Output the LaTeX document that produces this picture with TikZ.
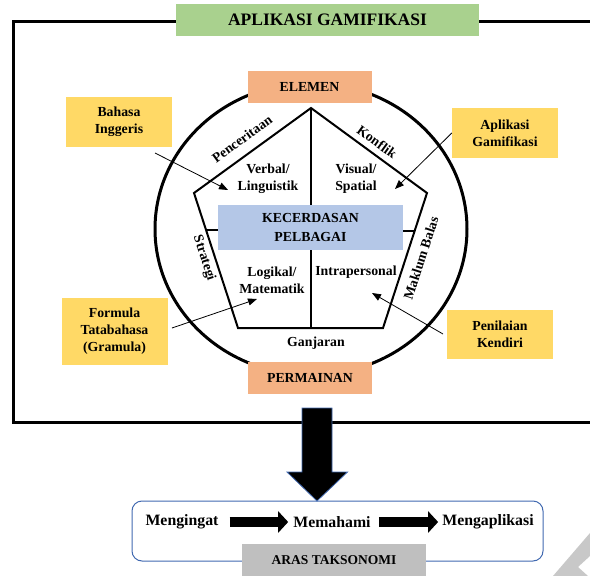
\documentclass[tikz,border=0pt]{standalone}
\usepackage{fontspec}
\setmainfont{Liberation Serif}
\usepackage{xcolor}
\usetikzlibrary{arrows.meta, positioning, calc}

\definecolor{titlegreen}{HTML}{A9D18E}
\definecolor{peach}{HTML}{F4B183}
\definecolor{gold}{HTML}{FFD966}
\definecolor{paleblue}{HTML}{B4C7E7}
\definecolor{midgrey}{HTML}{BFBFBF}
\definecolor{edgeblue}{HTML}{4169B0}
\definecolor{wedgegrey}{HTML}{C8C8C8}

\begin{document}
\begin{tikzpicture}[x=1pt, y=-1pt,
  txt/.style={font=\bfseries\fontsize{13.8}{17}\selectfont, align=center, inner sep=0pt},
  bigtxt/.style={font=\bfseries\fontsize{15.8}{18}\selectfont, inner sep=0pt},
  tagbox/.style={txt, fill=gold, minimum width=106pt},
  partbox/.style={txt, fill=peach, minimum width=124pt, minimum height=32pt},
  frame/.style={line width=3pt},
  ring/.style={line width=3pt},
  edge/.style={line width=2pt, line join=miter},
  pointer/.style={line width=0.8pt, -{Triangle[length=9pt, width=7pt]}},
  blockarrow/.style={line width=10pt, -{Triangle[length=10pt, width=21pt]}},
  bigarrow/.style={fill=black, draw=edgeblue, line width=0.8pt}]

\useasboundingbox (0,0) rectangle (590,576);

% Outer frame, open on the right
\draw[frame] (590,21) -- (13,21) -- (13,422) -- (590,422);

\node[txt, fill=titlegreen, minimum width=303pt, minimum height=32pt,
      font=\bfseries\fontsize{17.5}{20}\selectfont]
  (title) at (327.5,20) {APLIKASI GAMIFIKASI};

% Circle and pentagon
\draw[ring] (311,229) ellipse [x radius=156, y radius=146];

\coordinate (apex) at (311,108);
\coordinate (ul)   at (194,193);
\coordinate (ur)   at (427,193);
\coordinate (ll)   at (238,328);
\coordinate (lr)   at (383,328);
\draw[edge] (apex) -- (ur) -- (lr) -- (ll) -- (ul) -- cycle;
\draw[line width=2.5pt] (apex) -- (apex |- ll);

\node[partbox] (elemen)    at (309.5,87) {ELEMEN};
\node[partbox] (permainan) at (310,378)  {PERMAINAN};

\node[txt, fill=paleblue, minimum width=185pt, minimum height=45pt,
      font=\bfseries\fontsize{13.8}{19}\selectfont]
  (kecerdasan) at (310.5,227.5) {KECERDASAN\\PELBAGAI};

\coordinate (tl) at (206,230);
\coordinate (tr) at (414,231);
\draw[edge] (tl) -- (tl -| kecerdasan.west);
\draw[edge] (tr) -- (tr -| kecerdasan.east);

% Labels on the pentagon sides
\node[txt, rotate=36]  (penceritaan) at (242,139) {Penceritaan};
\node[txt, rotate=-36] (konflik)     at (377,142) {Konflik};
\node[txt, rotate=-72] (strategi)    at (204,258) {Strategi};
\node[txt, rotate=72]  (maklum)      at (421,258) {Maklum Balas};
\node[txt]             (ganjaran)    at (316,343) {Ganjaran};

% Intelligences
\node[txt] (verbal)  at (268,179) {Verbal/\\Linguistik};
\node[txt] (visual)  at (356,179) {Visual/\\Spatial};
\node[txt] (logikal) at (272,280) {Logikal/\\Matematik};
\node[txt] (intra)   at (356,272) {Intrapersonal};

% Side notes
\node[tagbox, minimum height=50pt] (bahasa)    at (119,122)   {Bahasa\\Inggeris};
\node[tagbox, minimum height=50pt] (aplikasi)  at (505,133)   {Aplikasi\\Gamifikasi};
\node[tagbox, minimum height=67pt] (formula)   at (114.5,331.5) {Formula\\Tatabahasa\\(Gramula)};
\node[tagbox, minimum height=49pt] (penilaian) at (500,334.5) {Penilaian\\Kendiri};

\coordinate (bahasa-out)    at (155,153);
\coordinate (verbal-in)     at (228,190);
\coordinate (visual-in)     at (395,189);
\coordinate (formula-out)   at (172,328);
\coordinate (logikal-in)    at (257,299);
\coordinate (penilaian-out) at (443,334);
\coordinate (intra-in)      at (372,293);
\draw[pointer] (bahasa-out) -- (verbal-in);
\draw[pointer] (aplikasi.west) -- (visual-in);
\draw[pointer] (formula-out) -- (logikal-in);
\draw[pointer] (penilaian-out) -- (intra-in);

% Taxonomy levels
\node[draw=edgeblue, line width=1pt, rounded corners=10pt, minimum width=411pt, minimum height=60pt]
  (taksonomi) at (337.5,531) {};
\node[bigtxt] (ingat) at (182,522) {Mengingat};
\node[bigtxt] (hami)  at (332,522) {Memahami};
\node[bigtxt] (apl)   at (488,522) {Mengaplikasi};
\draw[blockarrow, shorten <=11pt, shorten >=5pt] (ingat.east) -- (hami.west);
\draw[blockarrow, shorten <=8pt, shorten >=4pt] (hami.east) -- (apl.west);

\node[txt, fill=midgrey, minimum width=184pt, minimum height=32pt,
      font=\bfseries\fontsize{13.5}{16}\selectfont]
  (aras) at (334,560) {ARAS TAKSONOMI};

% Big arrow down to the taxonomy
\coordinate (bigtop) at (317,408);
\coordinate (bigtip) at (317,501);
\filldraw[bigarrow] (bigtop) ++(-15,0) -- ++(0,64) -- ++(-15,0) -- (bigtip)
  -- ++(30.5,-29) -- ++(-15.5,0) -- ++(0,-64) -- cycle;

% Corner mark
\fill[wedgegrey] (553,576) -- (590,533) -- (590,556) -- (578,567) -- (588,576) -- cycle;

\end{tikzpicture}
\end{document}
